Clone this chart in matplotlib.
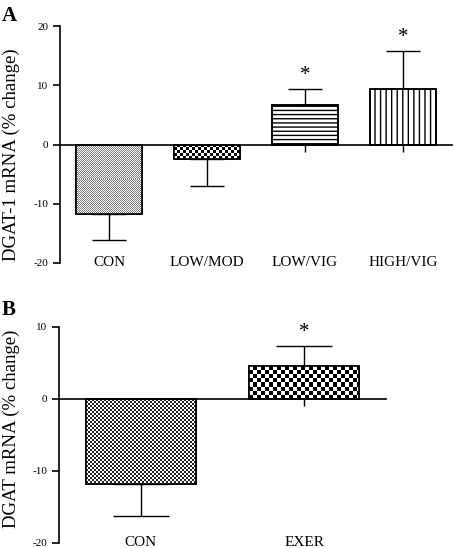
import matplotlib
matplotlib.use('Agg')
import matplotlib.pyplot as plt
import numpy as np

plt.rcParams['font.family'] = ['Liberation Serif', 'DejaVu Serif']
plt.rcParams['axes.unicode_minus'] = False
plt.rcParams['hatch.linewidth'] = 1.0

# panel A data
cats_a = ['CON', 'LOW/MOD', 'LOW/VIG', 'HIGH/VIG']
vals_a = [-11.7, -2.5, 6.6, 9.3]
errs_a = [4.4, 4.5, 2.8, 6.5]
sig_a = [False, False, True, True]
yticks_a = [-20, -10, 0, 10, 20]

# panel B data
cats_b = ['CON', 'EXER']
vals_b = [-11.8, 4.5]
errs_b = [4.5, 2.8]
sig_b = [False, True]
yticks_b = [-20, -10, 0, 10]

W, H = 454, 548
fig = plt.figure(figsize=(W / 100, H / 100), dpi=100)


def checker_fill(ax, bar, cell, color):
    # checker image clipped to the bar
    bb = bar.get_window_extent()
    w = max(int(round(bb.width)), 1)
    h = max(int(round(bb.height)), 1)
    i, j = np.indices((h, w))
    mask = (i // cell + j // cell) % 2
    rgb = np.ones((h, w, 3))
    rgb[mask == 1] = matplotlib.colors.to_rgb(color)
    x0, y0 = bar.get_x(), bar.get_y()
    x1, y1 = x0 + bar.get_width(), y0 + bar.get_height()
    im = ax.imshow(rgb, extent=[x0, x1, min(y0, y1), max(y0, y1)],
                   interpolation='nearest', aspect='auto', zorder=2.2)
    im.set_clip_path(bar)


def draw_panel(ax, cats, vals, errs, sig, yticks, width, cap, fills, ylabel, labcoords):
    x = np.arange(len(cats))
    lower = [e if v < 0 else 0 for v, e in zip(vals, errs)]
    upper = [e if v >= 0 else 0 for v, e in zip(vals, errs)]
    ax.errorbar(x, vals, yerr=[lower, upper], fmt='none', ecolor='black',
                elinewidth=1.0, capsize=cap, capthick=1.0, zorder=1)
    bars = ax.bar(x, vals, width=width, color='white', edgecolor='black',
                  linewidth=1.2, zorder=2)
    ax.set_xlim(-0.5, len(cats) - 0.5)
    ax.set_ylim(yticks[0], yticks[-1])
    for b, f in zip(bars, fills):
        if f[0] == 'checker':
            checker_fill(ax, b, f[1], f[2])
        else:
            b.set_hatch(f[1])
    for b in bars:
        ax.add_patch(plt.Rectangle((b.get_x(), b.get_y()), b.get_width(), b.get_height(),
                                   fill=False, edgecolor='black', linewidth=1.2, zorder=3))
    ax.set_xlim(-0.5, len(cats) - 0.5)
    ax.set_ylim(yticks[0], yticks[-1])
    for xi, v, e, s in zip(x, vals, errs, sig):
        if s:
            ax.annotate('*', (xi, v + e), xytext=(0, 3), textcoords='offset points',
                        ha='center', va='bottom', fontsize=15)
    for xi, c in zip(x, cats):
        ax.text(xi, yticks[0], c, ha='center', va='center', fontsize=11)
    ax.spines['top'].set_visible(False)
    ax.spines['right'].set_visible(False)
    ax.spines['bottom'].set_position(('data', 0))
    ax.spines['bottom'].set_linewidth(1.2)
    ax.spines['left'].set_linewidth(1.2)
    ax.set_xticks(x)
    ax.tick_params(axis='x', direction='out', length=5, width=1.0, labelbottom=False)
    ax.set_yticks(yticks)
    ax.tick_params(axis='y', direction='out', length=5, width=1.2, labelsize=8)
    ax.set_axisbelow(True)
    ax.set_ylabel(ylabel, fontsize=13.5)
    ax.yaxis.set_label_coords(*labcoords)
    ax.patch.set_visible(False)


ax1 = fig.add_axes([60 / W, 1 - 263 / H, 392 / W, 237 / H])
draw_panel(ax1, cats_a, vals_a, errs_a, sig_a, yticks_a, 0.67, 12,
           [('checker', 1, '#7a7a7a'), ('checker', 3, 'black'), ('hatch', '----'), ('hatch', '|||')],
           'DGAT-1 mRNA (% change)', (-0.102, 0.456))

ax2 = fig.add_axes([59 / W, 1 - 542.7 / H, 327 / W, 216 / H])
draw_panel(ax2, cats_b, vals_b, errs_b, sig_b, yticks_b, 0.67, 20,
           [('checker', 2, '#222222'), ('checker', 4, 'black')],
           'DGAT mRNA (% change)', (-0.119, 0.526))

fig.text(2 / W, 1 - 6 / H, 'A', fontsize=15, fontweight='bold', va='top', ha='left')
fig.text(2 / W, 1 - 300 / H, 'B', fontsize=15, fontweight='bold', va='top', ha='left')

fig.savefig('out.png', dpi=100)
